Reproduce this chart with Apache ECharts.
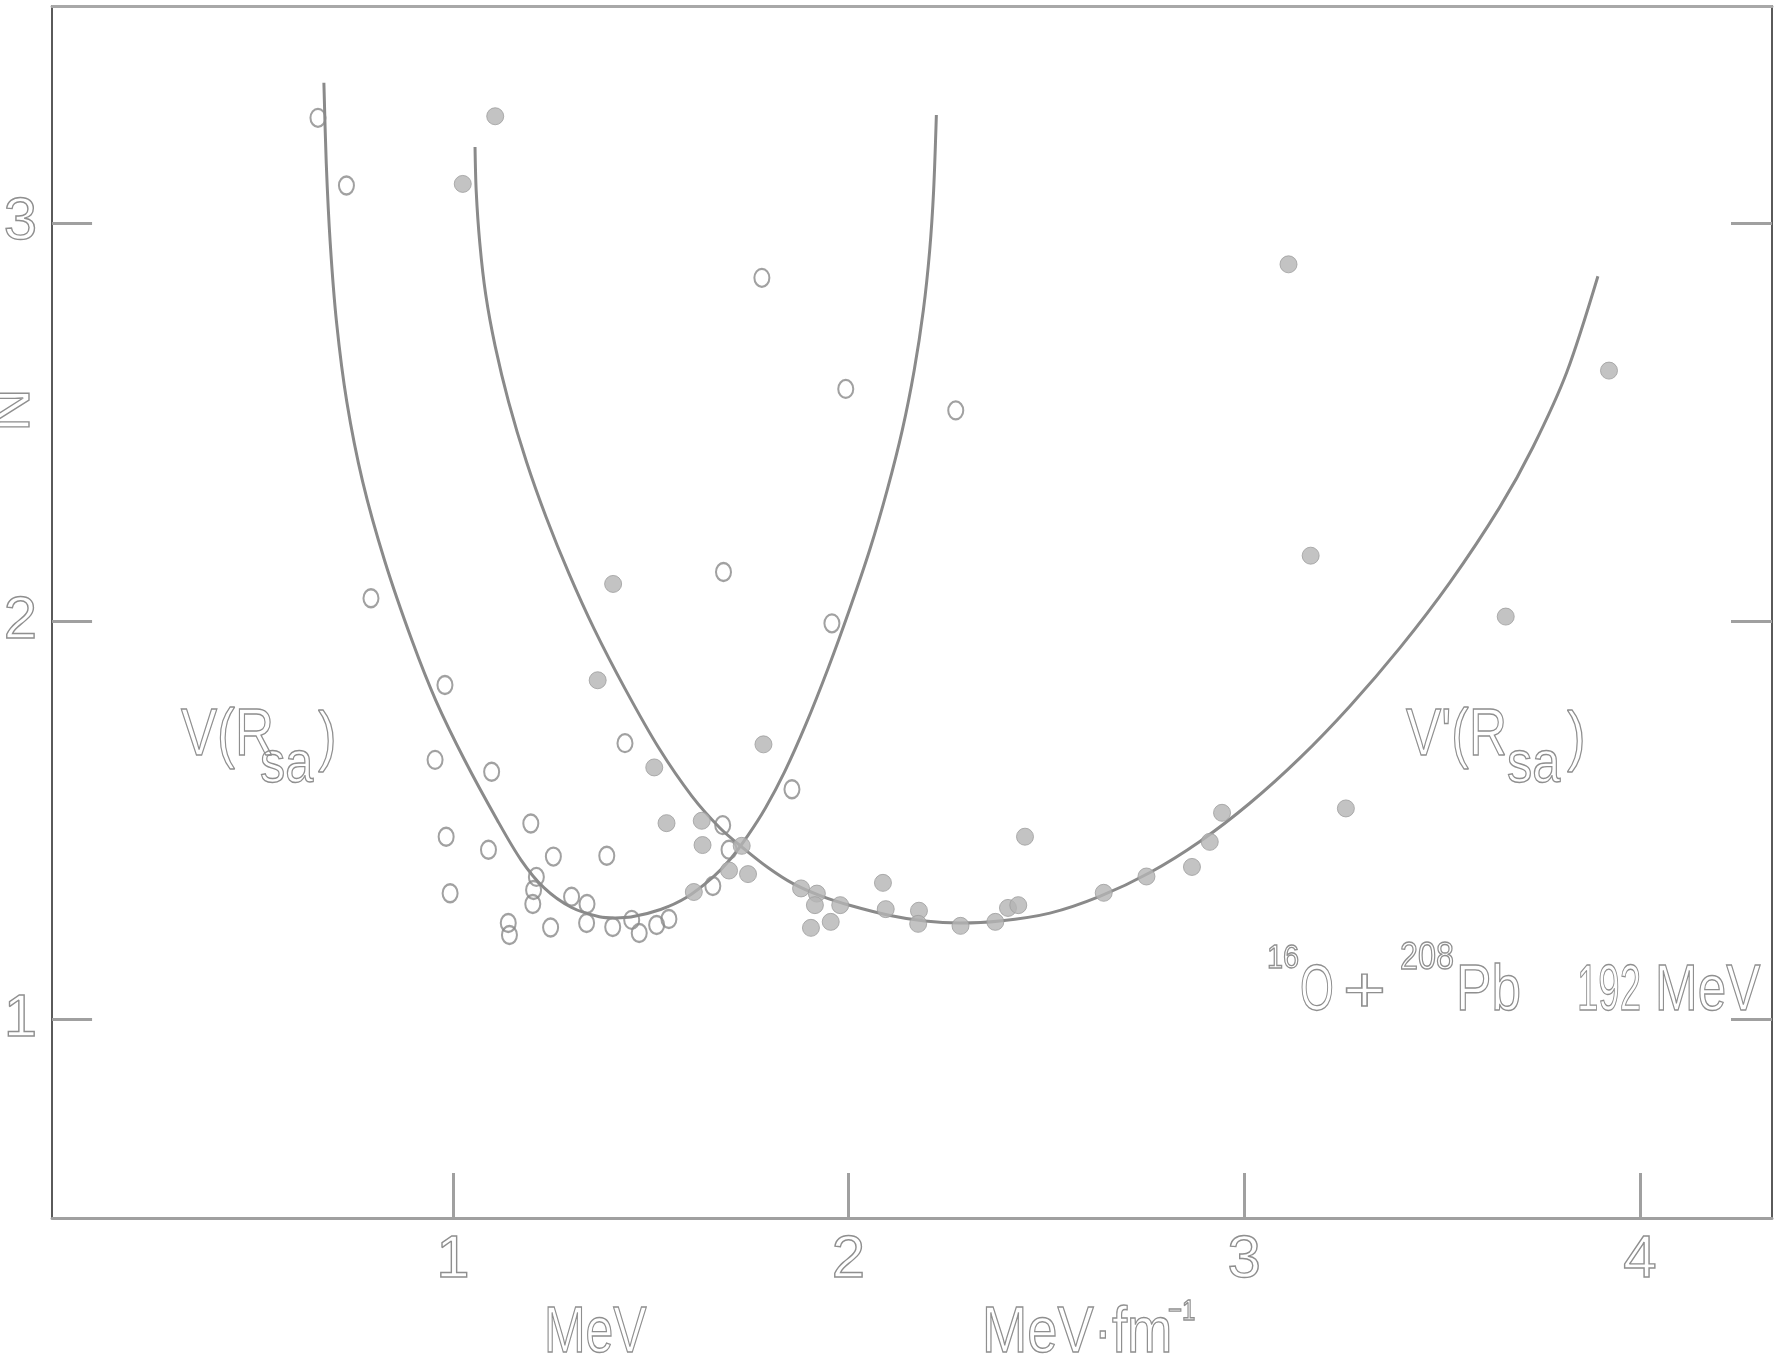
<!DOCTYPE html>
<html>
<head>
<meta charset="utf-8">
<script src="https://cdn.jsdelivr.net/npm/echarts@6/dist/echarts.min.js"></script>
<style>
html,body{margin:0;padding:0;background:#fff;}
#c{width:1778px;height:1366px;}
</style>
</head>
<body>
<div id="c"></div>
<script>
// ---- data ----
const xTicks = [1, 2, 3, 4];
const yTicks = [1, 2, 3];

// open circles : V(R_sa) in MeV
const openPoints = [
  [0.659,3.264],[0.731,3.094],[0.793,2.057],[0.980,1.839],[0.955,1.651],[1.098,1.621],
  [0.983,1.458],[1.090,1.425],[0.993,1.316],[1.197,1.491],[1.254,1.408],[1.389,1.410],
  [1.211,1.357],[1.204,1.324],[1.202,1.289],[1.140,1.241],[1.143,1.211],[1.247,1.230],
  [1.300,1.307],[1.339,1.289],[1.338,1.241],[1.404,1.231],[1.452,1.249],[1.471,1.216],
  [1.515,1.236],[1.546,1.251],[1.657,1.334],[1.682,1.487],[1.698,1.425],[1.857,1.577],
  [1.781,2.862],[1.993,2.583],[2.271,2.529],[1.684,2.123],[1.958,1.994],[1.435,1.693]
];

// filled circles : V'(R_sa) in MeV·fm^-1
const filledPoints = [
  [1.107,3.268],[1.025,3.098],[1.405,2.093],[1.366,1.851],[1.509,1.632],[1.540,1.492],
  [1.629,1.498],[1.631,1.437],[1.785,1.690],[1.698,1.373],[1.730,1.435],[1.746,1.364],
  [1.880,1.328],[1.920,1.315],[1.915,1.286],[1.979,1.286],[1.955,1.244],[1.905,1.229],
  [2.087,1.342],[2.094,1.276],[2.178,1.272],[2.176,1.239],[2.283,1.234],[2.371,1.244],
  [2.403,1.279],[2.429,1.286],[2.446,1.458],[2.645,1.317],[2.753,1.358],[2.868,1.382],
  [2.913,1.445],[2.944,1.518],[3.257,1.529],[3.112,2.896],[3.922,2.629],[3.168,2.164],
  [3.661,2.011],[1.609,1.319]
];

// fitted curve V(R_sa)
const curveV = [
  [0.674,3.352],[0.680,3.150],[0.690,2.950],[0.706,2.750],[0.732,2.550],[0.772,2.350],
  [0.828,2.150],[0.897,1.950],[0.957,1.800],[1.030,1.650],[1.112,1.500],[1.172,1.400],
  [1.230,1.330],[1.300,1.280],[1.370,1.257],[1.410,1.254],[1.450,1.256],[1.525,1.275],
  [1.590,1.305],[1.656,1.355],[1.700,1.400],[1.745,1.460],[1.790,1.530],[1.838,1.620],
  [1.892,1.740],[1.948,1.880],[2.003,2.030],[2.054,2.180],[2.098,2.330],[2.136,2.480],
  [2.166,2.630],[2.189,2.780],[2.205,2.930],[2.215,3.080],[2.222,3.271]
];

// fitted curve V'(R_sa)
const curveVp = [
  [1.056,3.191],[1.059,3.080],[1.068,2.950],[1.083,2.820],[1.107,2.690],[1.141,2.550],
  [1.186,2.400],[1.236,2.260],[1.293,2.120],[1.357,1.980],[1.435,1.830],[1.521,1.680],
  [1.604,1.560],[1.675,1.480],[1.733,1.430],[1.797,1.380],[1.860,1.340],[1.928,1.310],
  [2.005,1.285],[2.105,1.260],[2.193,1.246],[2.281,1.241],[2.382,1.246],[2.509,1.266],
  [2.635,1.308],[2.762,1.368],[2.888,1.446],[3.014,1.542],[3.141,1.656],[3.267,1.786],
  [3.394,1.933],[3.520,2.097],[3.646,2.286],[3.730,2.437],[3.815,2.624],[3.894,2.866]
];

// ---- chart ----
const FONT = '"Liberation Sans", Arial, sans-serif';
const INK = '#8f8f8f';

function txt(str, x, y, size, sx, extra) {
  const e = {
    type: 'text', x: x, y: y, z: 50,
    scaleX: sx || 1,
    style: {
      text: str,
      fontSize: size,
      fontFamily: FONT,
      fill: 'none',
      stroke: INK,
      lineWidth: 1.4,
      align: 'left',
      verticalAlign: 'middle'
    }
  };
  if (extra) Object.assign(e, extra);
  return e;
}

const labelStyle = {
  fontSize: 60,
  fontFamily: FONT,
  color: 'rgba(0,0,0,0)',
  textBorderColor: INK,
  textBorderWidth: 1.4
};

const chart = echarts.init(document.getElementById('c'), null, {renderer: 'canvas'});
chart.setOption({
  animation: false,
  backgroundColor: '#fff',
  grid: {left: 52, right: 6, top: 6, bottom: 148, containLabel: false},
  xAxis: [{
    type: 'value', min: -0.013, max: 4.334, position: 'bottom',
    axisLine: {show: true, onZero: false, lineStyle: {color: '#a0a0a0', width: 3}},
    axisTick: {show: true, inside: true, length: 45, customValues: xTicks,
               lineStyle: {color: '#a0a0a0', width: 3}},
    axisLabel: Object.assign({show: true, margin: 12, customValues: xTicks}, labelStyle),
    splitLine: {show: false}
  }, {
    type: 'value', min: -0.013, max: 4.334, position: 'top',
    axisLine: {show: true, onZero: false, lineStyle: {color: '#a8a8a8', width: 3}},
    axisTick: {show: false}, axisLabel: {show: false}, splitLine: {show: false}
  }],
  yAxis: [{
    type: 'value', min: 0.5, max: 3.545, position: 'left',
    axisLine: {show: true, onZero: false, lineStyle: {color: '#5a5a5a', width: 2}},
    axisTick: {show: true, inside: true, length: 40, customValues: yTicks,
               lineStyle: {color: '#a0a0a0', width: 3}},
    axisLabel: Object.assign({show: true, margin: 15, customValues: yTicks}, labelStyle),
    splitLine: {show: false}
  }, {
    type: 'value', min: 0.5, max: 3.545, position: 'right',
    axisLine: {show: true, onZero: false, lineStyle: {color: '#5a5a5a', width: 2}},
    axisTick: {show: true, inside: true, length: 41, customValues: yTicks,
               lineStyle: {color: '#a0a0a0', width: 3}},
    axisLabel: {show: false}, splitLine: {show: false}
  }],
  series: [{
    name: 'V(Rsa)', type: 'line', data: curveV, xAxisIndex: 0, yAxisIndex: 0,
    smooth: 0.3, symbol: 'none', z: 2,
    lineStyle: {color: '#8a8a8a', width: 3}
  }, {
    name: "V'(Rsa)", type: 'line', data: curveVp, xAxisIndex: 0, yAxisIndex: 0,
    smooth: 0.3, symbol: 'none', z: 2,
    lineStyle: {color: '#8a8a8a', width: 3}
  }, {
    name: 'open', type: 'scatter', data: openPoints, z: 3,
    symbol: 'circle', symbolSize: [15, 18],
    itemStyle: {color: 'rgba(255,255,255,0)', borderColor: '#8a8a8a', borderWidth: 2.2}
  }, {
    name: 'filled', type: 'scatter', data: filledPoints, z: 3,
    symbol: 'circle', symbolSize: 17,
    itemStyle: {color: '#b4b4b4', borderColor: '#9d9d9d', borderWidth: 1}
  }],
  graphic: [
    // y-axis name
    txt('N', 12, 410, 60, 1, {rotation: Math.PI / 2,
      style: {text: 'N', fontSize: 60, fontFamily: FONT, fill: 'none', stroke: INK,
              lineWidth: 1.4, align: 'center', verticalAlign: 'middle'}}),
    // V(R_sa)
    txt('V(R', 181, 737, 66, 0.82),
    txt('sa', 260, 765, 60, 0.84),
    txt(')', 318, 740, 66, 0.85),
    // V'(R_sa)
    txt("V'(R", 1406, 737, 66, 0.8),
    txt('sa', 1507, 765, 60, 0.84),
    txt(')', 1567, 740, 66, 0.85),
    // 16O + 208Pb 192 MeV
    txt('16', 1267, 959, 34, 0.85),
    txt('O', 1300, 992, 64, 0.68),
    txt('+', 1343, 994, 64, 1.15),
    txt('208', 1400, 959, 38, 0.85),
    txt('Pb', 1456, 992, 64, 0.83),
    txt('192', 1577, 992, 64, 0.6),
    txt('MeV', 1655, 992, 64, 0.8),
    // bottom unit labels
    txt('MeV', 544, 1334, 64, 0.78),
    txt('MeV·fm', 982, 1334, 64, 0.85),
    txt('−1', 1168, 1312, 30, 0.8)
  ]
});
</script>
</body>
</html>
